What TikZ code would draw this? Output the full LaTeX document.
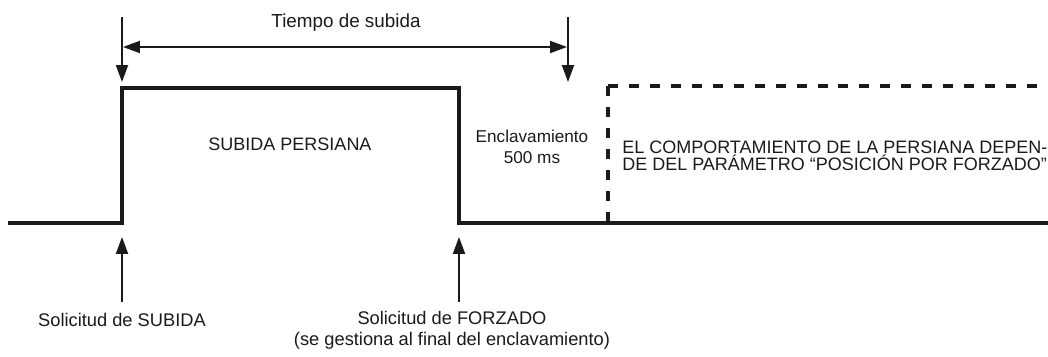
\documentclass[tikz,border=0pt]{standalone}
\usepackage{fontspec}
\setmainfont{Liberation Sans}
\usetikzlibrary{positioning,arrows.meta,calc}
\definecolor{ink}{HTML}{1A1A1A}

\begin{document}
\begin{tikzpicture}[x=0.025cm,y=-0.025cm,
  signal/.style={ink,line width=2.6pt},
  forced/.style={signal,dash pattern=on 7.1pt off 7.8pt},
  pointer/.style={ink,line width=1.4pt,-{Triangle[length=12pt,width=8.5pt]}},
  span/.style={ink,line width=1.4pt,{Triangle[length=12pt,width=8.5pt]}-{Triangle[length=12pt,width=8.5pt]}},
  label/.style={text=ink,font=\fontsize{13}{15}\selectfont,inner sep=0pt,align=center}]
  \useasboundingbox (0,0) rectangle (1048,356);
  % signal levels
  \coordinate (start) at (8,223);
  \coordinate (rise) at (122,223);
  \coordinate (riseTop) at (122,88);
  \coordinate (fallTop) at (459,88);
  \coordinate (fall) at (459,223);
  \coordinate (end) at (1048,223);
  \coordinate (forceBot) at (608,223);
  \coordinate (forceTop) at (608,86);
  \coordinate (forceEnd) at (1048,86);
  \draw[signal] (start) -- (rise) -- (riseTop) -- (fallTop) -- (fall) -- (end);
  \draw[forced] (forceTop) -- (forceEnd);
  \draw[forced] (forceTop) -- (forceBot);
  % time markers
  \coordinate (riseFrom) at (122,17);
  \coordinate (riseTo) at (122,82);
  \coordinate (lockFrom) at (568,17);
  \coordinate (lockTo) at (568,82);
  \draw[pointer] (riseFrom) -- (riseTo);
  \draw[pointer] (lockFrom) -- (lockTo);
  \coordinate (spanL) at (123,47);
  \coordinate (spanR) at (567,47);
  \draw[span] (spanL) -- (spanR);
  \node[label,font=\fontsize{13.4}{15}\selectfont] (riseTime) at (346,23) {Tiempo de subida};
  % requests
  \coordinate (upFrom) at (122,302);
  \coordinate (upTo) at (122,237);
  \coordinate (forceFrom) at (459,302);
  \coordinate (forceTo) at (459,237);
  \draw[pointer] (upFrom) -- (upTo);
  \draw[pointer] (forceFrom) -- (forceTo);
  \node[label] (upReq) at (122,320) {Solicitud de SUBIDA};
  \node[label] (forceReq) at (452,330) {Solicitud de FORZADO\\(se gestiona al final del enclavamiento)};
  % zone texts
  \node[label,font=\fontsize{12.8}{15}\selectfont] (raising) at (290,144) {SUBIDA PERSIANA};
  \node[label,font=\fontsize{12.2}{14.8}\selectfont] (lock) at (532,147) {Enclavamiento\\500 ms};
  \node[label,anchor=west,align=left,font=\fontsize{12.8}{12.2}\selectfont] (behaviour) at (622,156)
    {EL COMPORTAMIENTO DE LA PERSIANA DEPEN-\\DE DEL PARÁMETRO “POSICIÓN POR FORZADO”};
\end{tikzpicture}
\end{document}
